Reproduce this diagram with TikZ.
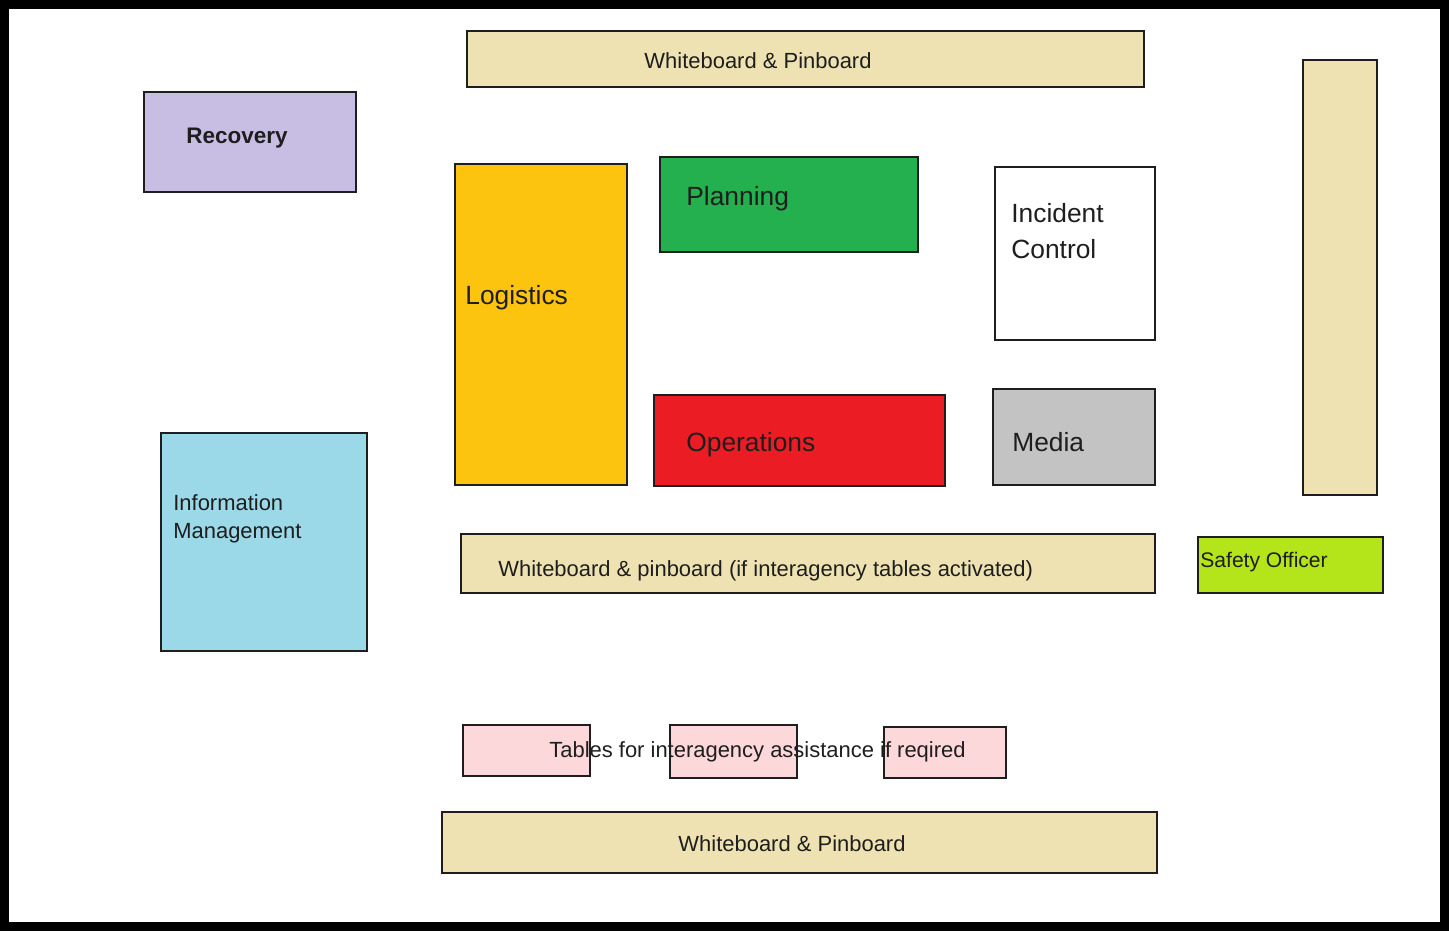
\documentclass[tikz,border=0pt]{standalone}
\usepackage{fontspec}
\setmainfont{Liberation Sans}
\usepackage{tikz}
\usetikzlibrary{positioning}
\definecolor{board}{RGB}{239,226,178}
\definecolor{recovery}{RGB}{200,190,228}
\definecolor{logistics}{RGB}{252,196,14}
\definecolor{planning}{RGB}{36,176,78}
\definecolor{operations}{RGB}{236,28,36}
\definecolor{media}{RGB}{195,195,195}
\definecolor{infomgmt}{RGB}{155,216,232}
\definecolor{safety}{RGB}{180,228,26}
\definecolor{tables}{RGB}{252,216,218}
\definecolor{ink}{RGB}{30,30,30}
\tikzset{room/.style={draw=ink,line width=1.1pt}}

\begin{document}
\begin{tikzpicture}[x=0.02cm, y=-0.02cm]
    \tikzstyle{big}=[text=ink,font=\fontsize{15}{20.5}\selectfont,inner sep=0pt,align=left]
    \tikzstyle{small}=[text=ink,font=\fontsize{12.5}{16}\selectfont,inner sep=0pt,align=left]
    \useasboundingbox (0,0) rectangle (1449,931);
    \draw[line width=5pt] (4.5,4.5) rectangle (1444.5,926.5);

    % boards along the walls
    \draw[room,fill=board] (467,31) rectangle (1144,87);
    \node[small] (topboard) at (758,61) {Whiteboard \& Pinboard};
    \draw[room,fill=board] (1303,60) rectangle (1377,495);
    \draw[room,fill=board] (461,534) rectangle (1155,593);
    \node[small,anchor=west] (midboard) at (498,571) {Whiteboard \& pinboard (if interagency tables activated)};
    \draw[room,fill=board] (442,812) rectangle (1157,873);
    \node[small] (bottomboard) at (792,844) {Whiteboard \& Pinboard};

    % functions
    \draw[room,fill=recovery] (144,92) rectangle (356,192);
    \node[text=ink,font=\bfseries\fontsize{12.8}{16}\selectfont,inner sep=0pt] (recovery) at (237,138) {Recovery};
    \draw[room,fill=logistics] (455,164) rectangle (627,485);
    \node[big,anchor=west] (logistics) at (465,298) {Logistics};
    \draw[room,fill=planning] (660,157) rectangle (918,252);
    \node[big,anchor=west] (planning) at (686,199) {Planning};
    \draw[room,fill=white] (995,167) rectangle (1155,340);
    \node[big,anchor=north west] (control) at (1011,203) {Incident\\Control};
    \draw[room,fill=operations] (654,395) rectangle (945,486);
    \node[big,anchor=west] (operations) at (686,445) {Operations};
    \draw[room,fill=media] (993,389) rectangle (1155,485);
    \node[big,anchor=west] (media) at (1012,442) {Media};
    \draw[room,fill=infomgmt] (161,433) rectangle (367,651);
    \node[small,anchor=north west] (infomgmt) at (173,494) {Information\\Management};
    \draw[room,fill=safety] (1198,537) rectangle (1383,593);
    \node[text=ink,font=\fontsize{12}{16}\selectfont,inner sep=0pt,anchor=west] (safety) at (1200,562) {Safety Officer};

    % interagency tables
    \draw[room,fill=tables] (463,725) rectangle (590,776);
    \draw[room,fill=tables] (670,725) rectangle (797,778);
    \draw[room,fill=tables] (884,727) rectangle (1006,778);
    \node[small,anchor=west] (tables) at (549,752) {Tables for interagency assistance if reqired};
\end{tikzpicture}
\end{document}
